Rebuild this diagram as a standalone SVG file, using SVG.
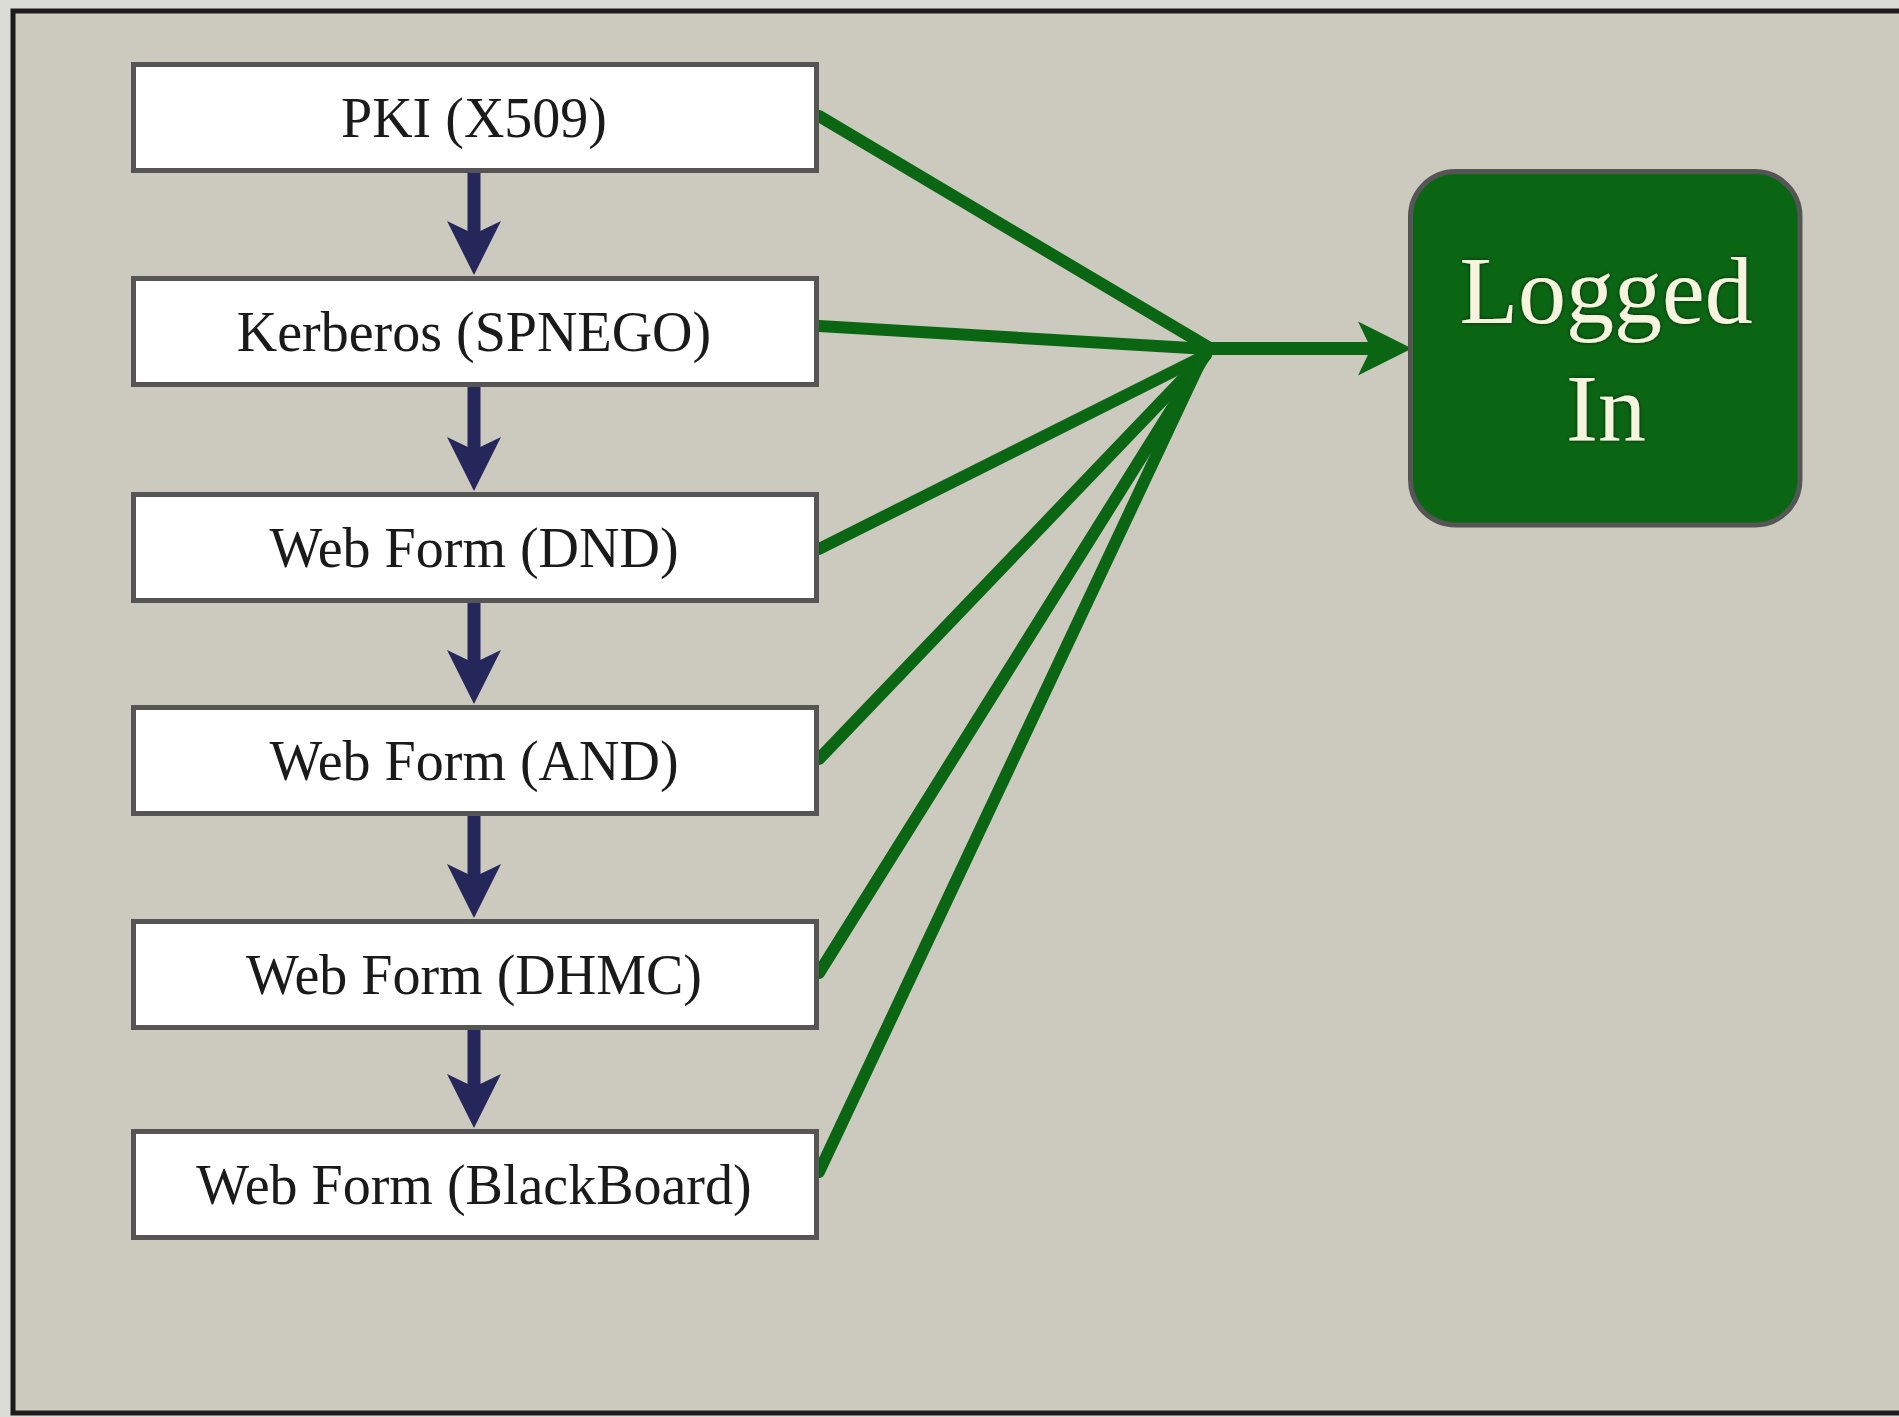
<svg xmlns="http://www.w3.org/2000/svg" width="1899" height="1417" viewBox="0 0 1899 1417">
<style>
.box{fill:#ffffff;stroke:#555555;stroke-width:5}
.lbl{font-family:"Liberation Serif","Times New Roman",serif;font-size:56px;fill:#1a1a1a;text-anchor:middle}
.flow{stroke:#25265a;stroke-width:13;fill:none}
.green{stroke:#0b6614;stroke-width:12;fill:none;stroke-linecap:round}
.big{font-family:"Liberation Serif","Times New Roman",serif;font-size:96px;fill:#f6f3de;text-anchor:middle}
</style>
<defs>
<marker id="ab" markerUnits="userSpaceOnUse" markerWidth="60" markerHeight="60" refX="0" refY="0" orient="auto" overflow="visible">
<path d="M41,0 L-13,-27 L0,0 L-13,27 Z" fill="#25265a"/>
</marker>
<marker id="ag" markerUnits="userSpaceOnUse" markerWidth="60" markerHeight="60" refX="0" refY="0" orient="auto" overflow="visible">
<path d="M41,0 L-13,-27 L0,0 L-13,27 Z" fill="#0b6614"/>
</marker>
<filter id="sh" x="-20%" y="-20%" width="140%" height="140%">
<feDropShadow dx="0" dy="0" stdDeviation="2" flood-color="#000000" flood-opacity="0.6"/>
</filter>
</defs>
<rect x="0" y="0" width="1899" height="1417" fill="#dcdcd6"/>
<rect x="13" y="11" width="1900" height="1402" fill="#cccabe" stroke="#1c1c1c" stroke-width="5"/>
<g id="connectors">
<line class="green" x1="819" y1="116" x2="1208" y2="347"/>
<line class="green" x1="819" y1="326" x2="1208" y2="349"/>
<line class="green" x1="819" y1="549" x2="1206" y2="355"/>
<line class="green" x1="819" y1="759" x2="1205" y2="356"/>
<line class="green" x1="819" y1="973" x2="1206" y2="354"/>
<line class="green" x1="819" y1="1172" x2="1206" y2="350"/>
<line x1="1206" y1="348.5" x2="1371" y2="348.5" stroke="#0b6614" stroke-width="13" marker-end="url(#ag)"/>
<line class="flow" x1="474" y1="173" x2="474" y2="234" marker-end="url(#ab)"/>
<line class="flow" x1="474" y1="387" x2="474" y2="450" marker-end="url(#ab)"/>
<line class="flow" x1="474" y1="603" x2="474" y2="663" marker-end="url(#ab)"/>
<line class="flow" x1="474" y1="816" x2="474" y2="877" marker-end="url(#ab)"/>
<line class="flow" x1="474" y1="1030" x2="474" y2="1087" marker-end="url(#ab)"/>
</g>
<g id="pki"><rect class="box" x="133.5" y="64.5" width="683" height="106"/><text class="lbl" x="474" y="136.5">PKI (X509)</text></g>
<g id="kerberos"><rect class="box" x="133.5" y="278.5" width="683" height="106"/><text class="lbl" x="474" y="350.5">Kerberos (SPNEGO)</text></g>
<g id="dnd"><rect class="box" x="133.5" y="494.5" width="683" height="106"/><text class="lbl" x="474" y="566.5">Web Form (DND)</text></g>
<g id="and"><rect class="box" x="133.5" y="707.5" width="683" height="106"/><text class="lbl" x="474" y="779.5">Web Form (AND)</text></g>
<g id="dhmc"><rect class="box" x="133.5" y="921.5" width="683" height="106"/><text class="lbl" x="474" y="993.5">Web Form (DHMC)</text></g>
<g id="blackboard"><rect class="box" x="133.5" y="1131.5" width="683" height="106"/><text class="lbl" x="474" y="1203.5">Web Form (BlackBoard)</text></g>
<g id="logged-in">
<rect x="1410.5" y="171.5" width="389.5" height="353.5" rx="45" ry="45" fill="#0b6614" stroke="#555555" stroke-width="5"/>
<text class="big" x="1606" y="323" filter="url(#sh)">Logged</text>
<text class="big" x="1606" y="441" filter="url(#sh)">In</text>
</g>
</svg>
